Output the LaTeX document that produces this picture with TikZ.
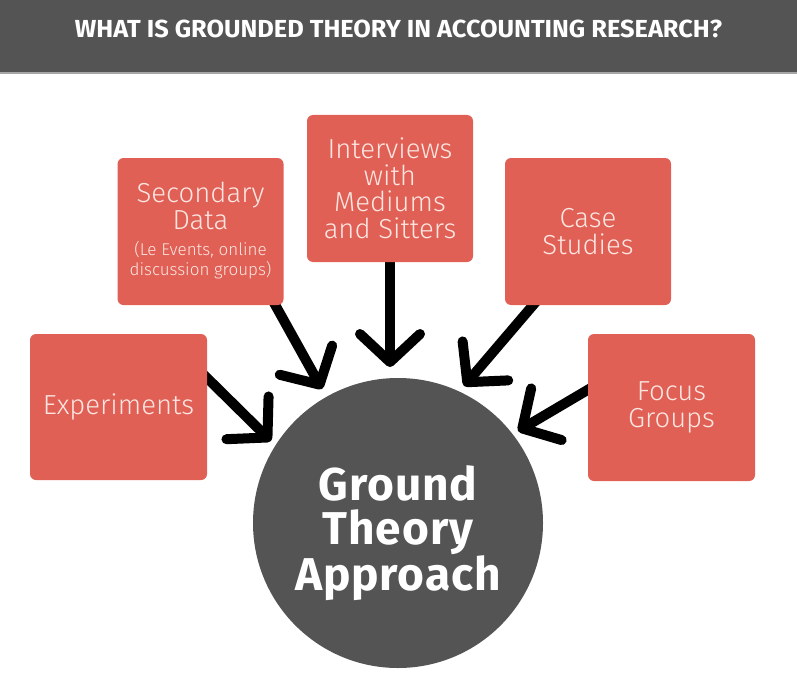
\documentclass[tikz,border=0pt]{standalone}
\usepackage{fontspec}
\setmainfont{Fira Sans}
\newfontfamily\boxfont{Fira Sans Light}
\newfontfamily\boldfont{Fira Sans Bold}[LetterSpace=2]
\newfontfamily\titlefont{Fira Sans Bold}
\usetikzlibrary{arrows.meta}
\definecolor{hdr}{HTML}{545454}
\definecolor{boxred}{HTML}{E06055}
\definecolor{boxtext}{HTML}{FCE6E2}
\tikzset{
  srcbox/.style={rectangle, rounded corners=6pt, fill=boxred, draw=none,
    text=boxtext, align=center, inner sep=0pt,
    font=\boxfont\fontsize{27.5}{26.5}\selectfont},
  conn/.style={line width=10pt, line cap=round, line join=round, black,
    -{Straight Barb[length=28pt,width=60pt,line cap=round,line join=round]}}
}
\newcommand{\smalllines}[1]{{\fontsize{17}{18}\selectfont\begin{tabular}{@{}c@{}}#1\end{tabular}}}
\begin{document}
\begin{tikzpicture}[x=1pt,y=-1pt]
\useasboundingbox (0,0) rectangle (797,682);
\fill[white] (0,0) rectangle (797,682);
% header
\fill[hdr] (0,0) rectangle (797,72);
\fill[gray!70] (0,72) rectangle (797,74);
\node[text=white, inner sep=0pt] (title) at (398.5,29)
  {\resizebox{647pt}{17.5pt}{\titlefont WHAT IS GROUNDED THEORY IN ACCOUNTING RESEARCH?}};
% central circle
\node[circle, fill=hdr, minimum size=290pt, inner sep=0pt,
  label={[text=white, align=center, yshift=-10pt,
          font=\boldfont\fontsize{46}{44}\selectfont]center:Ground\\Theory\\Approach}]
  (gt) at (398,523) {};
% arrow coordinates
\coordinate (s1) at (200,371);
\coordinate (t1) at (271,441);
\coordinate (s2) at (268,292);
\coordinate (t2) at (322,389);
\coordinate (s3) at (390,255);
\coordinate (t3) at (390,367);
\coordinate (s4) at (540,297);
\coordinate (t4) at (464,386);
\coordinate (s5) at (596,385);
\coordinate (t5) at (518,431);
\draw[conn] (s1) -- (t1);
\draw[conn] (s2) -- (t2);
\draw[conn] (s3) -- (t3);
\draw[conn] (s4) -- (t4);
\draw[conn] (s5) -- (t5);
% boxes
\node[srcbox, minimum width=177pt, minimum height=146pt] (exp) at (118.5,407) {Experiments};
\node[srcbox, minimum width=166pt, minimum height=147pt] (sec) at (200.5,231.5)
  {Secondary\\Data\\[10pt]\smalllines{(Le Events, online\\discussion groups)}};
\node[srcbox, minimum width=166pt, minimum height=147pt] (int) at (390,188.5)
  {Interviews\\with\\Mediums\\and Sitters};
\node[srcbox, minimum width=166pt, minimum height=147pt] (case) at (588,231.5)
  {Case\\Studies};
\node[srcbox, minimum width=167pt, minimum height=147pt] (foc) at (671.5,407.5)
  {Focus\\Groups};
\end{tikzpicture}
\end{document}
